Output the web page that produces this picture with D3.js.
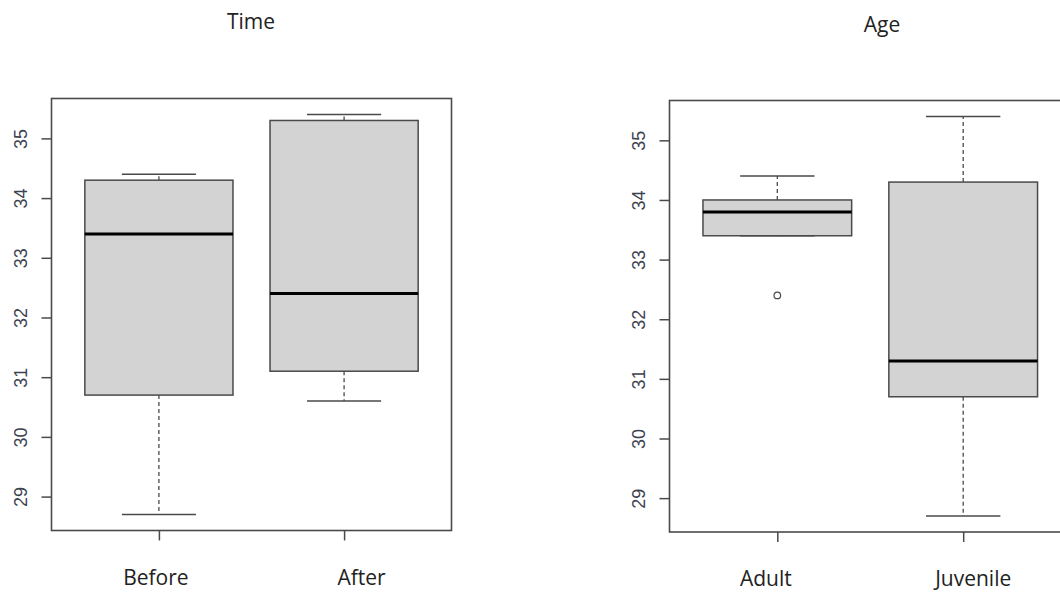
<!DOCTYPE html>
<html>
<head>
<meta charset="utf-8">
<script src="https://cdn.jsdelivr.net/npm/d3@7"></script>
<style>
  body { margin: 0; background: #fff; }
  svg { display: block; }
</style>
</head>
<body>
<div id="chart"></div>
<script>
// five-number summaries: [min, q1, median, q3, max]
const timeGroups = ["Before", "After"];
const timeStats = [
  [28.7, 30.7, 33.4, 34.3, 34.4],
  [30.6, 31.1, 32.4, 35.3, 35.4],
];
const timeOutliers = [[], []];

const ageGroups = ["Adult", "Juvenile"];
const ageStats = [
  [33.4, 33.4, 33.8, 34.0, 34.4],
  [28.7, 30.7, 31.3, 34.3, 35.4],
];
const ageOutliers = [[32.4], []];

const yTicks = [29, 30, 31, 32, 33, 34, 35];

const settings = {
  width: 1060,
  height: 592,
  lineColor: "#4a4a4a",
  fill: "#d3d3d3",
  boxWex: 0.8,
  tickLength: 10,
};

const panels = [
  { title: "Time", groups: timeGroups, stats: timeStats, outliers: timeOutliers,
    left: 51.5, right: 451.5, top: 98.5, bottom: 530.5,
    titleX: 251, titleY: 29, nudge: [-3.5, 17] },
  { title: "Age", groups: ageGroups, stats: ageStats, outliers: ageOutliers,
    left: 669.5, right: 1071, top: 100.5, bottom: 532,
    titleX: 882, titleY: 31.5, nudge: [-12, 9.5] },
];

const svg = d3.select("#chart")
  .append("svg")
  .attr("width", settings.width)
  .attr("height", settings.height);

panels.forEach(drawPanel);

function drawPanel(p) {
  const g = svg.append("g");
  const n = p.groups.length;

  // R style limits: data range stretched by 4% on each side
  const all = p.stats.flat().concat(p.outliers.flat());
  const lo = d3.min(all), hi = d3.max(all);
  const pad = (hi - lo) * 0.04;
  const y = d3.scaleLinear().domain([lo - pad, hi + pad]).range([p.bottom, p.top]);
  const xPad = n * 0.04;
  const x = d3.scaleLinear().domain([0.5 - xPad, n + 0.5 + xPad]).range([p.left, p.right]);
  const unit = x(1) - x(0);
  const boxW = settings.boxWex * unit;
  const capW = boxW / 2;

  // boxes
  p.stats.forEach((s, i) => {
    const cx = x(i + 1);
    const [mn, q1, med, q3, mx] = s;

    // whiskers
    [[q3, mx], [q1, mn]].forEach(([a, b]) => {
      g.append("line")
        .attr("x1", cx).attr("x2", cx)
        .attr("y1", y(a)).attr("y2", y(b))
        .attr("stroke", settings.lineColor)
        .attr("stroke-width", 1.3)
        .attr("stroke-dasharray", "4,3");
      g.append("line")
        .attr("x1", cx - capW / 2).attr("x2", cx + capW / 2)
        .attr("y1", y(b)).attr("y2", y(b))
        .attr("stroke", settings.lineColor)
        .attr("stroke-width", 1.5);
    });

    g.append("rect")
      .attr("x", cx - boxW / 2)
      .attr("y", y(q3))
      .attr("width", boxW)
      .attr("height", y(q1) - y(q3))
      .attr("fill", settings.fill)
      .attr("stroke", settings.lineColor)
      .attr("stroke-width", 1.5);

    g.append("line")
      .attr("x1", cx - boxW / 2).attr("x2", cx + boxW / 2)
      .attr("y1", y(med)).attr("y2", y(med))
      .attr("stroke", "#000")
      .attr("stroke-width", 3);

    p.outliers[i].forEach(v => {
      g.append("circle")
        .attr("cx", cx).attr("cy", y(v))
        .attr("r", 3.3)
        .attr("fill", "none")
        .attr("stroke", settings.lineColor)
        .attr("stroke-width", 1.2);
    });
  });

  // frame
  g.append("rect")
    .attr("x", p.left).attr("y", p.top)
    .attr("width", p.right - p.left)
    .attr("height", p.bottom - p.top)
    .attr("fill", "none")
    .attr("stroke", settings.lineColor)
    .attr("stroke-width", 1.6);

  // y axis, labels turned like R's las = 0
  const yAxis = g.append("g")
    .attr("transform", `translate(${p.left},0)`)
    .call(d3.axisLeft(y).tickValues(yTicks).tickSize(settings.tickLength).tickSizeOuter(0));
  yAxis.select(".domain").remove();
  yAxis.selectAll("line").attr("stroke", settings.lineColor).attr("stroke-width", 1.5);
  yAxis.selectAll("text")
    .attr("transform", "rotate(-90)")
    .attr("x", 0)
    .attr("y", -31)
    .attr("dy", "0.35em")
    .attr("text-anchor", "middle")
    .attr("fill", "#3d4250")
    .style("font-family", "'Liberation Sans', Arial, sans-serif")
    .style("font-size", "18px");

  // x axis
  const xAxis = g.append("g")
    .attr("transform", `translate(0,${p.bottom})`)
    .call(d3.axisBottom(x)
      .tickValues(d3.range(1, n + 1))
      .tickFormat(d => p.groups[d - 1])
      .tickSize(settings.tickLength)
      .tickSizeOuter(0));
  xAxis.select(".domain").remove();
  xAxis.selectAll("line").attr("stroke", settings.lineColor).attr("stroke-width", 1.5);
  xAxis.selectAll("text")
    .attr("y", 54)
    .attr("dy", 0)
    .attr("x", (d, i) => p.nudge[i])
    .attr("fill", "#222")
    .style("font-family", "'Open Sans', 'Noto Sans', sans-serif")
    .style("font-size", "21px");

  // title
  g.append("text")
    .attr("x", p.titleX)
    .attr("y", p.titleY)
    .attr("text-anchor", "middle")
    .attr("fill", "#222")
    .style("font-family", "'Open Sans', 'Noto Sans', sans-serif")
    .style("font-size", "21px")
    .text(p.title);
}
</script>
</body>
</html>
